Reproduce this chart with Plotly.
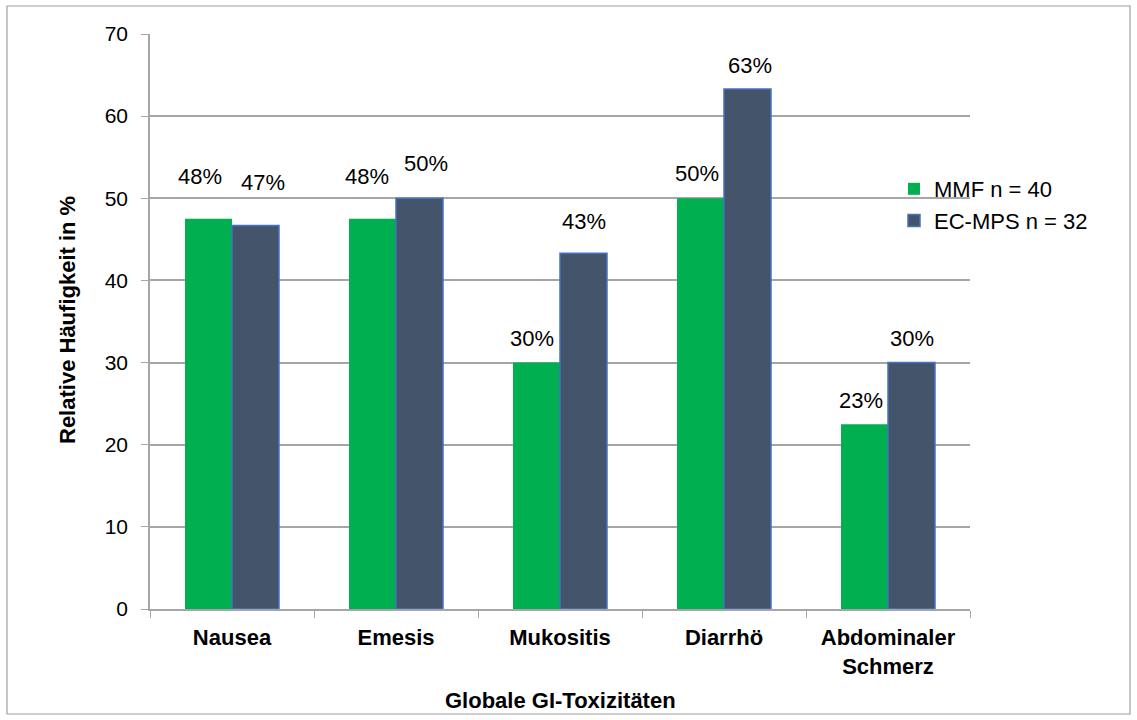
import plotly.graph_objects as go

categories = ["Nausea", "Emesis", "Mukositis", "Diarrhö", "Abdominaler<br>Schmerz"]
mmf_values = [47.5, 47.5, 30.0, 50.0, 22.5]
ecmps_values = [46.7, 50.0, 43.3, 63.3, 30.0]
mmf_labels = ["48%", "48%", "30%", "50%", "23%"]
ecmps_labels = ["47%", "50%", "43%", "63%", "30%"]
series_names = ["MMF n = 40", "EC-MPS n = 32"]
x_title = "Globale GI-Toxizitäten"
y_title = "Relative Häufigkeit in %"

# label placement offsets (style): pixels above bar top, horizontal nudge
mmf_yshift = [42, 42, 24, 25, 24]
ecmps_yshift = [43, 35, 32, 24, 24]
mmf_xshift = [-9, -6, -5, -4, -4]
ecmps_xshift = [7, 6, 0, 2, 0]

FONT = "Liberation Sans, Arial, sans-serif"
GREEN = "#00B050"
SLATE = "#44546A"
OUTLINE = "#4472C4"
GRID = "#A6A6A6"

fig = go.Figure()
fig.add_trace(go.Bar(x=categories, y=mmf_values, name=series_names[0],
                     marker=dict(color=GREEN, line=dict(width=0)),
                     legendgroup="a"))
fig.add_trace(go.Bar(x=categories, y=ecmps_values, name=series_names[1],
                     marker=dict(color=SLATE, line=dict(color=OUTLINE, width=1.5)),
                     legendgroup="b"))

bar_offset = 23.5
for i, c in enumerate(categories):
    fig.add_annotation(x=c, y=mmf_values[i], text=mmf_labels[i], showarrow=False,
                       xshift=-bar_offset + mmf_xshift[i], yshift=mmf_yshift[i],
                       font=dict(size=22, color="black", family=FONT))
    fig.add_annotation(x=c, y=ecmps_values[i], text=ecmps_labels[i], showarrow=False,
                       xshift=bar_offset + ecmps_xshift[i], yshift=ecmps_yshift[i],
                       font=dict(size=22, color="black", family=FONT))

L, R, T, B = 150, 167, 34, 111
W, H = 1137, 720
pw, ph = W - L - R, H - T - B

def px_x(px):
    return (px - L) / pw

def px_y(py):
    return (H - B - py) / ph

fig.add_shape(type="rect", xref="paper", yref="paper",
              x0=px_x(7), x1=px_x(1130), y0=px_y(714), y1=px_y(6),
              line=dict(color="#A0A0A0", width=1.2), fillcolor="rgba(0,0,0,0)", layer="below")

fig.add_annotation(xref="paper", yref="paper", x=px_x(560), y=px_y(700),
                   xanchor="center", yanchor="middle",
                   text="<b>" + x_title + "</b>", showarrow=False,
                   font=dict(size=22, family=FONT, color="black"))
fig.add_annotation(xref="paper", yref="paper", x=px_x(67), y=px_y(320),
                   xanchor="center", yanchor="middle",
                   text="<b>" + y_title + "</b>", showarrow=False, textangle=-90,
                   font=dict(size=22, family=FONT, color="black"))

fig.update_layout(
    width=W, height=H,
    margin=dict(l=L, r=R, t=T, b=B, pad=0),
    paper_bgcolor="white", plot_bgcolor="white",
    barmode="group", bargap=0.427, bargroupgap=0,
    font=dict(family=FONT, size=22, color="black"),
    showlegend=True,
    legend=dict(x=px_x(894), y=px_y(168), xanchor="left", yanchor="top",
                font=dict(size=22, family=FONT, color="black"),
                bgcolor="rgba(0,0,0,0)", tracegroupgap=11, traceorder="normal"),
    xaxis=dict(
        automargin=False,
        showline=True, linecolor=GRID, linewidth=1.5,
        ticks="outside", tickson="boundaries", ticklen=7, tickcolor=GRID, tickwidth=1.2,
        tickfont=dict(size=22, family=FONT, color="black", weight="bold"),
        ticklabelstandoff=8,
        showgrid=False,
    ),
    yaxis=dict(
        automargin=False,
        range=[0, 70], dtick=10, tick0=0,
        showline=True, linecolor=GRID, linewidth=1.5,
        ticks="outside", ticklen=7, tickcolor=GRID, tickwidth=1.2,
        tickfont=dict(size=21, family=FONT, color="black"),
        ticklabelstandoff=9,
        showgrid=True, gridcolor=GRID, gridwidth=1.5,
        zeroline=False,
    ),
)

fig.write_html("out.html")
